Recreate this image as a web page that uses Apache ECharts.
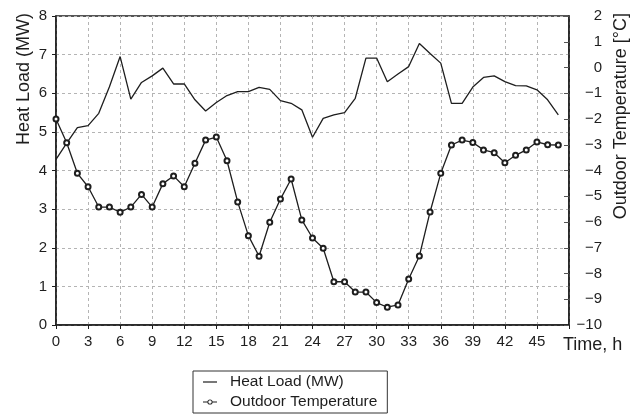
<!DOCTYPE html>
<html>
<head>
<meta charset="utf-8">
<script src="https://cdn.jsdelivr.net/npm/echarts@6/dist/echarts.min.js"></script>
<style>
html,body{margin:0;padding:0;background:#fff;}
#chart{width:639px;height:415px;}
</style>
</head>
<body>
<div id="chart"></div>
<script>
var hours = [0,1,2,3,4,5,6,7,8,9,10,11,12,13,14,15,16,17,18,19,20,21,22,23,24,25,26,27,28,29,30,31,32,33,34,35,36,37,38,39,40,41,42,43,44,45,46,47];
var heatLoad = [4.29,4.71,5.11,5.16,5.48,6.17,6.95,5.85,6.28,6.45,
  6.65,6.24,6.24,5.83,5.54,5.76,5.94,6.04,6.04,6.15,
  6.10,5.81,5.74,5.57,4.86,5.35,5.44,5.50,5.87,6.91,
  6.91,6.30,6.50,6.69,7.29,7.03,6.78,5.74,5.74,6.16,
  6.41,6.45,6.30,6.20,6.19,6.09,5.83,5.44];
var outdoorTemp = [-2.0,-2.92,-4.11,-4.63,-5.42,-5.42,-5.62,-5.42,-4.93,-5.42,
  -4.51,-4.21,-4.63,-3.72,-2.82,-2.70,-3.62,-5.22,-6.53,-7.33,
  -6.01,-5.11,-4.33,-5.92,-6.62,-7.02,-8.32,-8.32,-8.72,-8.72,
  -9.13,-9.31,-9.22,-8.21,-7.32,-5.61,-4.11,-3.01,-2.82,-2.91,
  -3.2,-3.31,-3.7,-3.41,-3.2,-2.89,-3.0,-3.01];
var seriesNames = ['Heat Load (MW)', 'Outdoor Temperature'];
var leftAxisTitle = 'Heat Load (MW)';
var rightAxisTitle = 'Outdoor Temperature [°C]';
var xAxisTitle = 'Time, h';

var FONT = '"Liberation Sans", Arial, sans-serif';
var INK = '#1e1e1e';

var ICON_LINE = 'path://M0,2H14V3.2H0Z';
var ICON_LINE_CIRCLE = 'path://M0,2H4.5V3.2H0Z M9.5,2H14V3.2H9.5Z M4.4,2.6A2.6,2.6 0 1,1 9.6,2.6A2.6,2.6 0 1,1 4.4,2.6Z M5.3,2.6A1.7,1.7 0 1,0 8.7,2.6A1.7,1.7 0 1,0 5.3,2.6Z';

function pairs(xs, ys){ return xs.map(function(x,i){ return [x, ys[i]]; }); }

var chart = echarts.init(document.getElementById('chart'), null, {renderer:'canvas'});
chart.setOption({
  animation: false,
  backgroundColor: '#fff',
  textStyle: {fontFamily: FONT, color: INK},
  grid: {left: 56, right: 70, top: 16, bottom: 90, show: true, borderColor: INK, borderWidth: 1.5, backgroundColor: 'transparent'},
  xAxis: {
    type: 'value', min: 0, max: 48, interval: 3,
    axisLine: {lineStyle: {color: INK, width: 1.5}},
    axisTick: {show: true, length: 4, lineStyle: {color: INK}},
    axisLabel: {fontSize: 15, color: INK, margin: 9, fontFamily: FONT,
      formatter: function(v){ return v === 48 ? '' : String(v); }},
    splitLine: {show: true, lineStyle: {color: '#b4b4b4', type: [3,3], width: 1}}
  },
  yAxis: [{
    type: 'value', min: 0, max: 8, interval: 1, position: 'left',
    axisLine: {show: true, lineStyle: {color: INK, width: 1.5}},
    axisTick: {show: true, length: 4, lineStyle: {color: INK}},
    axisLabel: {fontSize: 15, color: INK, margin: 9, fontFamily: FONT},
    splitLine: {show: true, lineStyle: {color: '#b4b4b4', type: [3,3], width: 1}}
  }, {
    type: 'value', min: -10, max: 2, interval: 1, position: 'right',
    axisLine: {show: true, lineStyle: {color: INK, width: 1.5}},
    axisTick: {show: true, inside: true, length: 5, lineStyle: {color: '#555'}},
    axisLabel: {fontSize: 15, color: INK, margin: 33, align: 'right', fontFamily: FONT,
      formatter: function(v){ return v < 0 ? '\u2212' + Math.abs(v) : String(v); }},
    splitLine: {show: false}
  }],
  legend: {
    orient: 'vertical', left: 193, top: 371,
    padding: [3, 10, 3, 10], itemGap: 4,
    itemWidth: 14, itemHeight: 14,
    borderColor: '#333', borderWidth: 1,
    symbolKeepAspect: true,
    itemStyle: {color: INK, borderWidth: 0},
    lineStyle: {width: 0},
    textStyle: {fontSize: 15.5, color: INK, fontFamily: FONT, padding: [0,0,0,8]},
    data: [{name: seriesNames[0], icon: ICON_LINE}, {name: seriesNames[1], icon: ICON_LINE_CIRCLE}]
  },
  graphic: [
    {type: 'text', x: 24, y: 13, rotation: Math.PI/2, style: {text: leftAxisTitle, font: '18px ' + FONT, fill: INK, align: 'right', verticalAlign: 'middle'}},
    {type: 'text', x: 621, y: 13, rotation: Math.PI/2, style: {text: rightAxisTitle, font: '18px ' + FONT, fill: INK, align: 'right', verticalAlign: 'middle'}},
    {type: 'text', x: 563, y: 345, style: {text: xAxisTitle, font: '18px ' + FONT, fill: INK, align: 'left', verticalAlign: 'middle'}}
  ],
  series: [{
    name: seriesNames[0], type: 'line', yAxisIndex: 0,
    data: pairs(hours, heatLoad),
    showSymbol: false, symbol: 'none',
    lineStyle: {color: INK, width: 1.3},
    itemStyle: {color: INK}
  }, {
    name: seriesNames[1], type: 'line', yAxisIndex: 1,
    data: pairs(hours, outdoorTemp),
    symbol: 'emptyCircle', symbolSize: 5,
    lineStyle: {color: INK, width: 1.3},
    itemStyle: {color: INK, borderWidth: 0.9}
  }]
});
</script>
</body>
</html>
